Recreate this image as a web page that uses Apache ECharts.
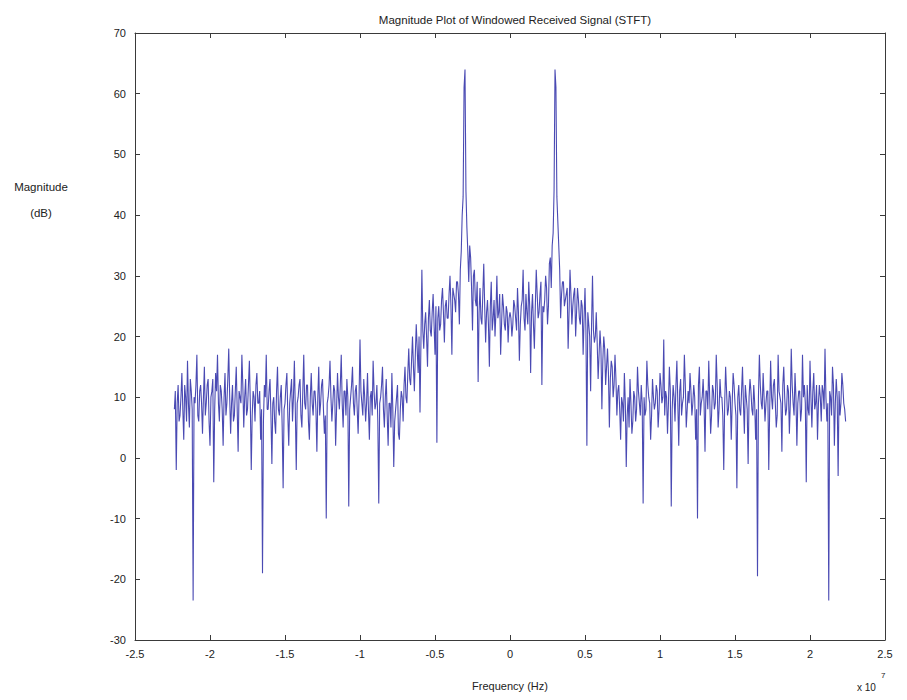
<!DOCTYPE html>
<html><head><meta charset="utf-8">
<script src="https://cdn.jsdelivr.net/npm/echarts@6/dist/echarts.min.js"></script>
<style>html,body{margin:0;padding:0;background:#fff}#c{width:907px;height:700px}</style>
</head><body><div id="c"></div>
<script>
// Chart texts
const chartTitle = 'Magnitude Plot of Windowed Received Signal (STFT)';
const xAxisTitle = 'Frequency (Hz)';
const yAxisTitle = 'Magnitude\n(dB)';
const xScaleNote = 'x 10';
const xScaleExp = '7';

// Axis ticks (frequency in units of 10^7 Hz, magnitude in dB)
const xTicks = [-2.5, -2, -1.5, -1, -0.5, 0, 0.5, 1, 1.5, 2, 2.5];
const yTicks = [-30, -20, -10, 0, 10, 20, 30, 40, 50, 60, 70];

// FFT bin spacing (units of 10^7 Hz)
const binStep = 0.00625;

// Magnitude (dB) for negative-frequency bins, from lowest frequency up to -binStep
const magNeg = [
  8,11, -2,9, 12,6,
  7,10, 14,8, 3,12, 10,6, 16,9, 5,13, 11,8, -23.5,10, 9,12, 17,7,
  6,11, 12,9, 4,10, 15,7, 9,12, 13,6, 2,10, 11,13, -4,8, 14,11,
  17,9, 6,12, 11,8, 2,10, 14,7, 9,13, 18,10, 4,9, 12,6, 7,11,
  15,8, 1,11, 10,9, 17,12, 5,10, 13,7, 8,12, 16,9, -2,7, 11,10,
  6,12, 14,9, 9,11, 3,8, -19,6, 12,10, 17,8, 8,11, 13,7, -1,9,
  10,6, 4,11, 15,8, 7,10, 12,5, -5,8, 9,12, 14,7, 2,9, 11,13,
  6,10, 16,8, -2,9, 10,12, 13,7, 5,11, 17,9, 8,12, 12,6, 3,10,
  14,9, 7,11, 11,8, 1,10, 15,7, 9,12, 13,8, 4,7, -10,9, 10,12,
  16,10, 6,9, 12,11, 2,8, 14,10, 8,12, 17,9, 5,11, 11,7, 13,10,
  -8,8, 10,12, 15,9, 7,11, 12,8, 4,10, 19.5,11, 9,7, 13,10, 6,9,
  14,8, 3,10, 11,7, 16,11, 8,9, 12,6, -7.5,9, 10,12, 15,8, 5,10,
  13,7, 2,9, 9,5, 14,8, -1.5,6, 8,10, 12,4, 3,8, 11,10,
  6,12, 15,10, 9,14, 18,13, 12,16, 20,15, 11,17, 22,18, 14,20, 7.5,19, 31,21,
  18,22, 24,20, 15,23, 26,21, 20,24, 27,22, 17,25, 2.5,23, 25,21, 22,26,
  28,24, 19,25, 26,23, 23,27, 30,25, 17,28, 27,26, 24,29, 29,27, 22,31,
  34,40, 43,61, 64,44,
  38,34, 29,35, 33,28, 21,30, 31,26, 25,29, 12.5,24, 28,23, 22,27, 32,25, 19,24,
  26,22, 15,25, 29,21, 23,26, 20,24, 30,23, 24,27, 17,22, 27,25, 22,21, 25,24, 19,23
];
// Magnitude (dB) at 0 Hz
const magZero = [24];
// Magnitude (dB) for positive-frequency bins, from +binStep upward
const magPos = [
  23,20, 22,26, 25,23, 21,28, 24,16, 22,25, 26,31, 23,21, 27,24, 22,29, 25,14, 24,27,
  22,18, 25,31, 27,23, 24,27, 29,12, 25,24, 26,30, 28,22, 25,32, 33,28, 35,37,
  44,64, 61,43, 39,35,
  31,23, 27,29, 29,25, 26,27, 28,18, 24,31, 27,22, 25,27, 28,20, 24,28,
  26,23, 22,26, 25,17, 23,28, 21,2, 24,22, 20,11, 22,30, 21,19, 20,24,
  19,13, 17,21, 18,8, 16,20, 18,12, 15,18, 14,5, 13,16, 15,10, 12,17, 13,7,
  11,12, 8,3, 10,9, 6,14, 9,-1.5, 7,10, 5,13, 9,4, 6,11,
  10,6, 8,15, 11,9, 7,12, 9,-7.5, 10,7, 8,16, 12,10, 9,3, 7,13,
  10,8, 9,12, 11,5, 8,14, 12,9, 10,19.5, 7,11, 10,4, 9,15, 11,-8,
  8,12, 10,6, 12,16, 9,2, 11,13, 7,9, 10,17, 12,5, 8,11, 9,14,
  11,7, 9,12, 10,3, 8,-10, 12,15, 7,9, 10,13, 9,1, 11,11, 8,16,
  10,4, 7,12, 11,8, 9,17, 12,5, 8,13, 10,10, 7,-2, 9,15, 11,7,
  8,11, 10,3, 9,14, 12,9, 7,-5, 10,12, 8,7, 11,15, 9,4, 12,10,
  8,-1, 10,13, 11,8, 7,12, 9,3, 8,-19.5, 10,17, 12,9, 8,14, 10,6,
  9,11, 11,-2, 8,16, 10,8, 12,13, 9,5, 7,17, 11,10, 9,1, 12,15,
  10,7, 8,12, 11,4, 9,18, 12,9, 7,14, 10,2, 9,11, 11,6, 8,17,
  10,12, 9,-4, 12,8, 7,16, 10,5, 11,14, 8,9, 12,3, 9,12, 10,6,
  12,11, 8,18, 10,6, 9,-23.5, 11,10, 7,15, 12,2, 9,13, 10,-3, 11,7,
  9,14, 12,9, 8,6
];

// Build [frequency, magnitude] pairs on the bin grid
const points = [];
magNeg.forEach((m, k) => points.push([-(magNeg.length - k) * binStep, m]));
points.push([0, magZero[0]]);
magPos.forEach((m, k) => points.push([(k + 1) * binStep, m]));

const FONT = 'Liberation Sans, Arial, sans-serif';
const TXT = '#222';
const AX = '#3a3a3a';

const chart = echarts.init(document.getElementById('c'), null, {renderer: 'svg'});

function xAx(pos, labels) {
  return {
    type: 'value', position: pos,
    min: xTicks[0], max: xTicks[xTicks.length - 1], interval: xTicks[1] - xTicks[0],
    axisLine: {show: true, onZero: false, lineStyle: {color: AX, width: 1}},
    axisTick: {show: true, inside: true, length: 5, lineStyle: {color: AX}},
    splitLine: {show: false},
    axisLabel: {show: labels, color: TXT, fontSize: 11, fontFamily: FONT, margin: 8},
  };
}
function yAx(pos, labels) {
  return {
    type: 'value', position: pos,
    min: yTicks[0], max: yTicks[yTicks.length - 1], interval: yTicks[1] - yTicks[0],
    axisLine: {show: true, onZero: false, lineStyle: {color: AX, width: 1}},
    axisTick: {show: true, inside: true, length: 5, lineStyle: {color: AX}},
    splitLine: {show: false},
    axisLabel: {show: labels, color: TXT, fontSize: 11, fontFamily: FONT, margin: 9},
  };
}

chart.setOption({
  animation: false,
  backgroundColor: '#fff',
  title: {
    text: chartTitle, left: 510, top: 9, textAlign: 'center',
    textStyle: {fontSize: 11.5, fontWeight: 'normal', color: TXT, fontFamily: FONT}
  },
  grid: {left: 135, right: 22, top: 33, bottom: 60},
  xAxis: [xAx('bottom', true), xAx('top', false)],
  yAxis: [yAx('left', true), yAx('right', false)],
  graphic: [
    {type: 'text', x: 41, y: 174, style: {text: yAxisTitle, textAlign: 'center', fill: TXT, font: '11.5px ' + FONT, lineHeight: 26}},
    {type: 'text', x: 510, y: 680, style: {text: xAxisTitle, textAlign: 'center', fill: TXT, font: '11px ' + FONT}},
    {type: 'text', x: 857, y: 682, style: {text: xScaleNote, textAlign: 'left', fill: TXT, font: '10px ' + FONT}},
    {type: 'text', x: 881, y: 671, style: {text: xScaleExp, textAlign: 'left', fill: TXT, font: '8px ' + FONT}}
  ],
  series: [{
    type: 'line', data: points, xAxisIndex: 0, yAxisIndex: 0,
    showSymbol: false, symbol: 'none', sampling: false,
    lineStyle: {color: '#2a2aa6', width: 1.1, opacity: 0.85},
    emphasis: {disabled: true}
  }]
});
</script></body></html>
